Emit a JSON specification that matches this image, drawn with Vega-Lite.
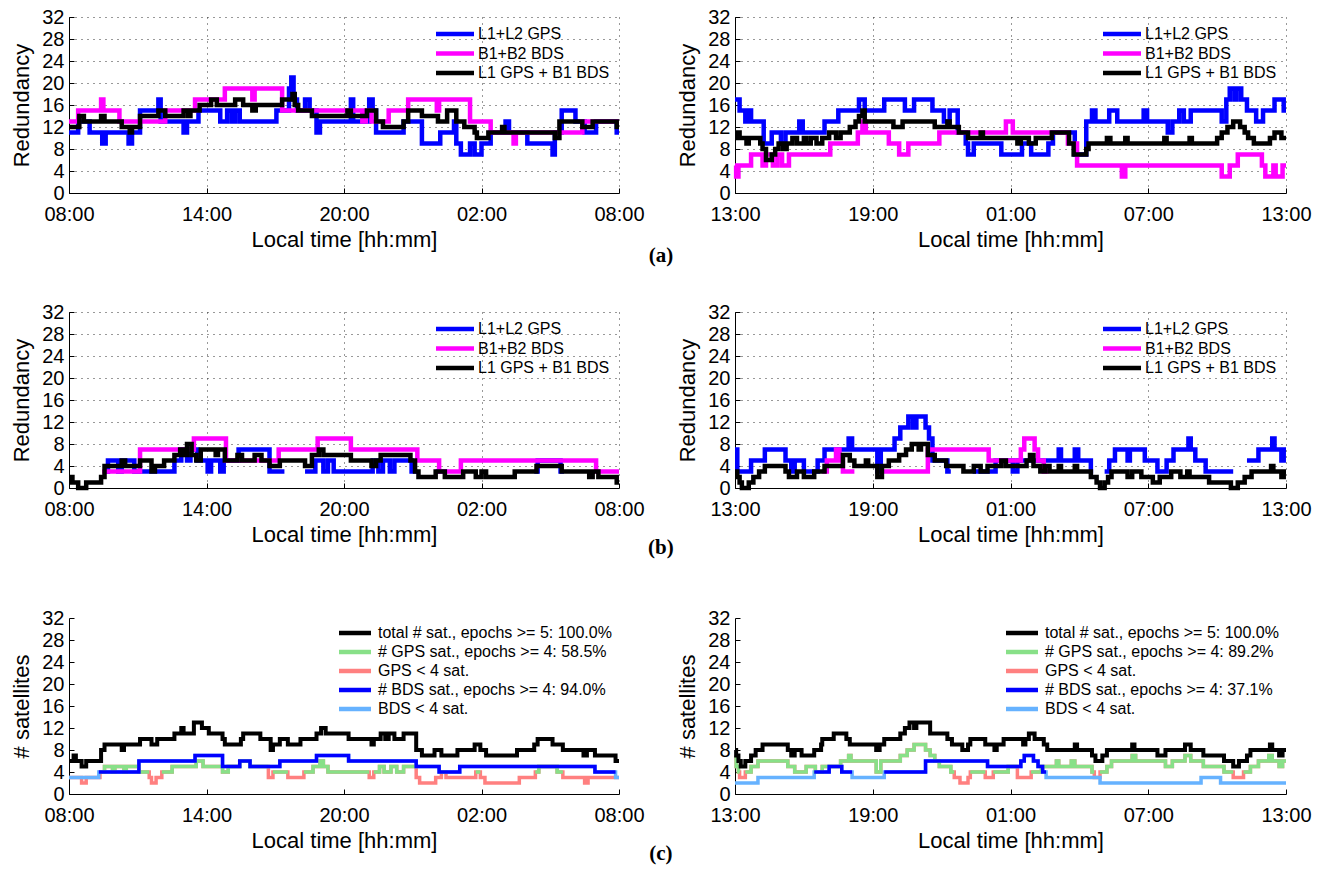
{
"$schema":"https://vega.github.io/schema/vega-lite/v6.json",
"background":"white",
"padding":{"left":10,"top":7,"right":5,"bottom":5},
"config":{
 "view":{"stroke":null},
 "font":"Liberation Sans",
 "axis":{"labelFont":"Liberation Sans","labelFontSize":20,"labelColor":"#000","titleFont":"Liberation Sans","titleFontSize":22,"titleFontWeight":"normal","titleColor":"#000","domainColor":"#000","domainWidth":1,"tickColor":"#000","tickSize":-5,"tickWidth":1,"labelPadding":10,"labelFlush":false,"labelOverlap":false,"gridColor":"#333","gridDash":[1,5],"gridOpacity":1,"gridWidth":1},
 "axisX":{"labelPadding":16,"titlePadding":5},
 "axisY":{"titlePadding":8},
 "legend":{"orient":"top-right","offset":9,"padding":0,"labelFont":"Liberation Sans","labelFontSize":16,"labelColor":"#000","symbolType":"M-4,0H4","symbolSize":90.25,"symbolStrokeWidth":5,"labelOffset":15,"rowPadding":1.5,"labelLimit":400},
 "line":{"interpolate":"step-after","strokeWidth":4.5}
},
"datasets":{
"a1":[
{"s":"G","g":0,"t":0,"v":11},{"s":"G","g":0,"t":0.4,"v":13},{"s":"G","g":0,"t":0.9,"v":11},{"s":"G","g":0,"t":1.45,"v":9},{"s":"G","g":0,"t":1.6,"v":11},{"s":"G","g":0,"t":2.6,"v":9},{"s":"G","g":0,"t":2.75,"v":11},{"s":"G","g":0,"t":3.1,"v":15},{"s":"G","g":0,"t":3.9,"v":17},{"s":"G","g":0,"t":4.0,"v":13},{"s":"G","g":0,"t":5.0,"v":11},{"s":"G","g":0,"t":5.15,"v":13},{"s":"G","g":0,"t":5.65,"v":15},{"s":"G","g":0,"t":6.6,"v":13},{"s":"G","g":0,"t":6.9,"v":15},{"s":"G","g":0,"t":7.1,"v":13},{"s":"G","g":0,"t":7.25,"v":15},{"s":"G","g":0,"t":7.45,"v":13},{"s":"G","g":0,"t":9.05,"v":15},{"s":"G","g":0,"t":9.6,"v":19},{"s":"G","g":0,"t":9.7,"v":21},{"s":"G","g":0,"t":9.8,"v":17},{"s":"G","g":0,"t":9.95,"v":15},{"s":"G","g":0,"t":10.3,"v":17},{"s":"G","g":0,"t":10.5,"v":15},{"s":"G","g":0,"t":10.8,"v":11},{"s":"G","g":0,"t":10.95,"v":13},{"s":"G","g":0,"t":12.3,"v":17},{"s":"G","g":0,"t":12.4,"v":13},{"s":"G","g":0,"t":13.1,"v":17},{"s":"G","g":0,"t":13.25,"v":15},{"s":"G","g":0,"t":13.4,"v":11},{"s":"G","g":0,"t":14.6,"v":13},{"s":"G","g":0,"t":15.4,"v":9},{"s":"G","g":0,"t":16.2,"v":11},{"s":"G","g":0,"t":16.8,"v":13},{"s":"G","g":0,"t":16.9,"v":9},{"s":"G","g":0,"t":17.1,"v":7},{"s":"G","g":0,"t":17.5,"v":9},{"s":"G","g":0,"t":17.7,"v":7},{"s":"G","g":0,"t":18.0,"v":9},{"s":"G","g":0,"t":18.4,"v":11},{"s":"G","g":0,"t":19.05,"v":13},{"s":"G","g":0,"t":19.2,"v":11},{"s":"G","g":0,"t":20.0,"v":9},{"s":"G","g":0,"t":21.1,"v":7},{"s":"G","g":0,"t":21.2,"v":11},{"s":"G","g":0,"t":21.5,"v":15},{"s":"G","g":0,"t":22.1,"v":13},{"s":"G","g":0,"t":22.5,"v":11},{"s":"G","g":0,"t":23.0,"v":13},{"s":"G","g":0,"t":23.9,"v":11},{"s":"G","g":0,"t":24,"v":11},
{"s":"B","g":0,"t":0,"v":13},{"s":"B","g":0,"t":0.4,"v":15},{"s":"B","g":0,"t":1.4,"v":17},{"s":"B","g":0,"t":1.5,"v":15},{"s":"B","g":0,"t":2.2,"v":13},{"s":"B","g":0,"t":4.2,"v":15},{"s":"B","g":0,"t":5.5,"v":17},{"s":"B","g":0,"t":6.8,"v":19},{"s":"B","g":0,"t":8.0,"v":17},{"s":"B","g":0,"t":8.1,"v":19},{"s":"B","g":0,"t":9.3,"v":15},{"s":"B","g":0,"t":12.8,"v":13},{"s":"B","g":0,"t":12.95,"v":15},{"s":"B","g":0,"t":13.2,"v":13},{"s":"B","g":0,"t":13.95,"v":15},{"s":"B","g":0,"t":14.8,"v":17},{"s":"B","g":0,"t":16.05,"v":15},{"s":"B","g":0,"t":16.15,"v":17},{"s":"B","g":0,"t":17.5,"v":13},{"s":"B","g":0,"t":18.4,"v":11},{"s":"B","g":0,"t":19.4,"v":9},{"s":"B","g":0,"t":19.5,"v":11},{"s":"B","g":0,"t":22.4,"v":13},{"s":"B","g":0,"t":24,"v":13},
{"s":"M","g":0,"t":0,"v":12},{"s":"M","g":0,"t":0.45,"v":14},{"s":"M","g":0,"t":0.65,"v":13},{"s":"M","g":0,"t":1.4,"v":14},{"s":"M","g":0,"t":1.55,"v":13},{"s":"M","g":0,"t":2.3,"v":12},{"s":"M","g":0,"t":2.65,"v":11},{"s":"M","g":0,"t":2.75,"v":12},{"s":"M","g":0,"t":3.1,"v":14},{"s":"M","g":0,"t":3.9,"v":15},{"s":"M","g":0,"t":4.2,"v":14},{"s":"M","g":0,"t":5.0,"v":15},{"s":"M","g":0,"t":5.2,"v":14},{"s":"M","g":0,"t":5.3,"v":15},{"s":"M","g":0,"t":5.7,"v":16},{"s":"M","g":0,"t":6.2,"v":17},{"s":"M","g":0,"t":6.45,"v":16},{"s":"M","g":0,"t":7.25,"v":17},{"s":"M","g":0,"t":7.6,"v":16},{"s":"M","g":0,"t":8.0,"v":15},{"s":"M","g":0,"t":8.15,"v":16},{"s":"M","g":0,"t":9.3,"v":17},{"s":"M","g":0,"t":9.75,"v":18},{"s":"M","g":0,"t":9.85,"v":16},{"s":"M","g":0,"t":10.0,"v":15},{"s":"M","g":0,"t":10.6,"v":14},{"s":"M","g":0,"t":12.15,"v":15},{"s":"M","g":0,"t":12.3,"v":14},{"s":"M","g":0,"t":13.0,"v":15},{"s":"M","g":0,"t":13.4,"v":13},{"s":"M","g":0,"t":13.7,"v":12},{"s":"M","g":0,"t":14.6,"v":13},{"s":"M","g":0,"t":14.8,"v":15},{"s":"M","g":0,"t":15.4,"v":14},{"s":"M","g":0,"t":16.1,"v":13},{"s":"M","g":0,"t":16.5,"v":15},{"s":"M","g":0,"t":16.9,"v":13},{"s":"M","g":0,"t":17.25,"v":12},{"s":"M","g":0,"t":17.7,"v":11},{"s":"M","g":0,"t":17.8,"v":10},{"s":"M","g":0,"t":18.3,"v":11},{"s":"M","g":0,"t":18.9,"v":12},{"s":"M","g":0,"t":19.0,"v":11},{"s":"M","g":0,"t":21.2,"v":10},{"s":"M","g":0,"t":21.4,"v":13},{"s":"M","g":0,"t":22.4,"v":12},{"s":"M","g":0,"t":22.85,"v":13},{"s":"M","g":0,"t":23.9,"v":12},{"s":"M","g":0,"t":24,"v":12}
],
"a2":[
{"s":"G","g":0,"t":0,"v":17},{"s":"G","g":0,"t":0.2,"v":15},{"s":"G","g":0,"t":0.45,"v":13},{"s":"G","g":0,"t":0.55,"v":15},{"s":"G","g":0,"t":0.7,"v":13},{"s":"G","g":0,"t":1.25,"v":9},{"s":"G","g":0,"t":1.6,"v":11},{"s":"G","g":0,"t":2.0,"v":9},{"s":"G","g":0,"t":2.2,"v":11},{"s":"G","g":0,"t":2.8,"v":13},{"s":"G","g":0,"t":2.95,"v":11},{"s":"G","g":0,"t":3.9,"v":13},{"s":"G","g":0,"t":4.5,"v":15},{"s":"G","g":0,"t":5.4,"v":17},{"s":"G","g":0,"t":5.65,"v":15},{"s":"G","g":0,"t":6.5,"v":17},{"s":"G","g":0,"t":7.4,"v":15},{"s":"G","g":0,"t":7.8,"v":17},{"s":"G","g":0,"t":8.6,"v":15},{"s":"G","g":0,"t":9.1,"v":13},{"s":"G","g":0,"t":9.35,"v":15},{"s":"G","g":0,"t":9.7,"v":11},{"s":"G","g":0,"t":10.05,"v":9},{"s":"G","g":0,"t":10.15,"v":7},{"s":"G","g":0,"t":10.4,"v":9},{"s":"G","g":0,"t":11.6,"v":7},{"s":"G","g":0,"t":12.5,"v":9},{"s":"G","g":0,"t":12.9,"v":7},{"s":"G","g":0,"t":13.65,"v":9},{"s":"G","g":0,"t":13.85,"v":11},{"s":"G","g":0,"t":14.8,"v":7},{"s":"G","g":0,"t":15.3,"v":13},{"s":"G","g":0,"t":15.55,"v":15},{"s":"G","g":0,"t":15.7,"v":13},{"s":"G","g":0,"t":16.3,"v":15},{"s":"G","g":0,"t":16.65,"v":13},{"s":"G","g":0,"t":17.8,"v":15},{"s":"G","g":0,"t":17.95,"v":13},{"s":"G","g":0,"t":18.85,"v":11},{"s":"G","g":0,"t":19.05,"v":13},{"s":"G","g":0,"t":19.35,"v":15},{"s":"G","g":0,"t":19.55,"v":13},{"s":"G","g":0,"t":19.85,"v":15},{"s":"G","g":0,"t":21.2,"v":13},{"s":"G","g":0,"t":21.4,"v":17},{"s":"G","g":0,"t":21.55,"v":19},{"s":"G","g":0,"t":21.75,"v":17},{"s":"G","g":0,"t":21.85,"v":19},{"s":"G","g":0,"t":22.05,"v":17},{"s":"G","g":0,"t":22.3,"v":15},{"s":"G","g":0,"t":22.7,"v":13},{"s":"G","g":0,"t":23.0,"v":15},{"s":"G","g":0,"t":23.5,"v":17},{"s":"G","g":0,"t":23.9,"v":15},{"s":"G","g":0,"t":24,"v":15},
{"s":"B","g":0,"t":0,"v":5},{"s":"B","g":0,"t":0.05,"v":3},{"s":"B","g":0,"t":0.15,"v":5},{"s":"B","g":0,"t":0.7,"v":7},{"s":"B","g":0,"t":1.2,"v":5},{"s":"B","g":0,"t":1.35,"v":7},{"s":"B","g":0,"t":1.65,"v":5},{"s":"B","g":0,"t":1.85,"v":7},{"s":"B","g":0,"t":2.05,"v":5},{"s":"B","g":0,"t":2.35,"v":7},{"s":"B","g":0,"t":4.15,"v":9},{"s":"B","g":0,"t":5.35,"v":11},{"s":"B","g":0,"t":5.55,"v":13},{"s":"B","g":0,"t":5.7,"v":11},{"s":"B","g":0,"t":6.7,"v":9},{"s":"B","g":0,"t":7.15,"v":7},{"s":"B","g":0,"t":7.55,"v":9},{"s":"B","g":0,"t":8.9,"v":11},{"s":"B","g":0,"t":11.8,"v":13},{"s":"B","g":0,"t":12.1,"v":11},{"s":"B","g":0,"t":14.5,"v":9},{"s":"B","g":0,"t":14.9,"v":5},{"s":"B","g":0,"t":16.85,"v":3},{"s":"B","g":0,"t":17.0,"v":5},{"s":"B","g":0,"t":21.2,"v":3},{"s":"B","g":0,"t":21.55,"v":5},{"s":"B","g":0,"t":21.9,"v":7},{"s":"B","g":0,"t":22.95,"v":5},{"s":"B","g":0,"t":23.1,"v":3},{"s":"B","g":0,"t":23.45,"v":5},{"s":"B","g":0,"t":23.55,"v":3},{"s":"B","g":0,"t":23.85,"v":5},{"s":"B","g":0,"t":24,"v":5},
{"s":"M","g":0,"t":0,"v":10},{"s":"M","g":0,"t":0.1,"v":11},{"s":"M","g":0,"t":0.2,"v":10},{"s":"M","g":0,"t":0.5,"v":9},{"s":"M","g":0,"t":0.6,"v":10},{"s":"M","g":0,"t":1.1,"v":9},{"s":"M","g":0,"t":1.2,"v":8},{"s":"M","g":0,"t":1.35,"v":6},{"s":"M","g":0,"t":1.6,"v":7},{"s":"M","g":0,"t":1.75,"v":8},{"s":"M","g":0,"t":1.9,"v":9},{"s":"M","g":0,"t":2.1,"v":8},{"s":"M","g":0,"t":2.25,"v":9},{"s":"M","g":0,"t":2.5,"v":10},{"s":"M","g":0,"t":2.7,"v":9},{"s":"M","g":0,"t":3.0,"v":10},{"s":"M","g":0,"t":3.1,"v":9},{"s":"M","g":0,"t":3.3,"v":10},{"s":"M","g":0,"t":3.55,"v":9},{"s":"M","g":0,"t":3.8,"v":10},{"s":"M","g":0,"t":4.1,"v":11},{"s":"M","g":0,"t":4.4,"v":10},{"s":"M","g":0,"t":4.6,"v":11},{"s":"M","g":0,"t":5.0,"v":12},{"s":"M","g":0,"t":5.25,"v":13},{"s":"M","g":0,"t":5.4,"v":14},{"s":"M","g":0,"t":5.55,"v":15},{"s":"M","g":0,"t":5.65,"v":13},{"s":"M","g":0,"t":6.9,"v":12},{"s":"M","g":0,"t":7.3,"v":13},{"s":"M","g":0,"t":8.7,"v":12},{"s":"M","g":0,"t":9.25,"v":13},{"s":"M","g":0,"t":9.35,"v":12},{"s":"M","g":0,"t":9.75,"v":11},{"s":"M","g":0,"t":10.15,"v":10},{"s":"M","g":0,"t":10.7,"v":11},{"s":"M","g":0,"t":10.8,"v":10},{"s":"M","g":0,"t":12.3,"v":9},{"s":"M","g":0,"t":12.45,"v":10},{"s":"M","g":0,"t":12.8,"v":9},{"s":"M","g":0,"t":13.1,"v":10},{"s":"M","g":0,"t":13.8,"v":11},{"s":"M","g":0,"t":14.55,"v":9},{"s":"M","g":0,"t":14.75,"v":7},{"s":"M","g":0,"t":15.3,"v":8},{"s":"M","g":0,"t":15.4,"v":9},{"s":"M","g":0,"t":16.2,"v":10},{"s":"M","g":0,"t":16.35,"v":9},{"s":"M","g":0,"t":17.0,"v":10},{"s":"M","g":0,"t":17.1,"v":9},{"s":"M","g":0,"t":18.7,"v":10},{"s":"M","g":0,"t":18.8,"v":9},{"s":"M","g":0,"t":19.8,"v":10},{"s":"M","g":0,"t":19.9,"v":9},{"s":"M","g":0,"t":21.0,"v":10},{"s":"M","g":0,"t":21.2,"v":11},{"s":"M","g":0,"t":21.45,"v":12},{"s":"M","g":0,"t":21.7,"v":13},{"s":"M","g":0,"t":22.0,"v":12},{"s":"M","g":0,"t":22.2,"v":11},{"s":"M","g":0,"t":22.35,"v":10},{"s":"M","g":0,"t":22.6,"v":9},{"s":"M","g":0,"t":23.3,"v":10},{"s":"M","g":0,"t":23.5,"v":11},{"s":"M","g":0,"t":23.8,"v":10},{"s":"M","g":0,"t":24,"v":10}
],
"b1":[
{"s":"G","g":0,"t":1.55,"v":3},{"s":"G","g":0,"t":1.7,"v":5},{"s":"G","g":0,"t":2.15,"v":3},{"s":"G","g":0,"t":2.3,"v":5},{"s":"G","g":0,"t":2.85,"v":3},{"s":"G","g":0,"t":4.6,"v":5},{"s":"G","g":0,"t":4.9,"v":7},{"s":"G","g":0,"t":5.15,"v":5},{"s":"G","g":0,"t":5.3,"v":7},{"s":"G","g":0,"t":5.6,"v":5},{"s":"G","g":0,"t":6.05,"v":3},{"s":"G","g":0,"t":6.2,"v":5},{"s":"G","g":0,"t":6.6,"v":3},{"s":"G","g":0,"t":6.75,"v":5},{"s":"G","g":0,"t":7.4,"v":7},{"s":"G","g":0,"t":8.75,"v":3},{"s":"G","g":0,"t":9.4,"v":3},
{"s":"G","g":1,"t":10.3,"v":3},{"s":"G","g":1,"t":10.75,"v":5},{"s":"G","g":1,"t":11.1,"v":3},{"s":"G","g":1,"t":11.3,"v":5},{"s":"G","g":1,"t":11.55,"v":3},{"s":"G","g":1,"t":13.25,"v":5},{"s":"G","g":1,"t":13.5,"v":3},{"s":"G","g":1,"t":13.7,"v":5},{"s":"G","g":1,"t":14.0,"v":3},{"s":"G","g":1,"t":14.2,"v":5},{"s":"G","g":1,"t":14.95,"v":3},{"s":"G","g":1,"t":15.2,"v":3},
{"s":"G","g":2,"t":16.0,"v":3},{"s":"G","g":2,"t":16.5,"v":3},
{"s":"G","g":3,"t":20.3,"v":3},{"s":"G","g":3,"t":20.45,"v":5},{"s":"G","g":3,"t":21.45,"v":3},{"s":"G","g":3,"t":21.6,"v":3},
{"s":"B","g":0,"t":1.45,"v":3},{"s":"B","g":0,"t":3.1,"v":7},{"s":"B","g":0,"t":5.45,"v":9},{"s":"B","g":0,"t":6.85,"v":5},{"s":"B","g":0,"t":9.15,"v":7},{"s":"B","g":0,"t":10.85,"v":9},{"s":"B","g":0,"t":12.3,"v":7},{"s":"B","g":0,"t":15.2,"v":5},{"s":"B","g":0,"t":16.15,"v":3},{"s":"B","g":0,"t":17.1,"v":5},{"s":"B","g":0,"t":23.0,"v":3},{"s":"B","g":0,"t":24,"v":3},
{"s":"M","g":0,"t":0,"v":1},{"s":"M","g":0,"t":0.1,"v":2},{"s":"M","g":0,"t":0.15,"v":1},{"s":"M","g":0,"t":0.4,"v":0},{"s":"M","g":0,"t":0.75,"v":1},{"s":"M","g":0,"t":1.4,"v":2},{"s":"M","g":0,"t":1.55,"v":4},{"s":"M","g":0,"t":2.3,"v":5},{"s":"M","g":0,"t":2.45,"v":4},{"s":"M","g":0,"t":3.1,"v":5},{"s":"M","g":0,"t":3.6,"v":3},{"s":"M","g":0,"t":3.75,"v":4},{"s":"M","g":0,"t":4.15,"v":5},{"s":"M","g":0,"t":4.6,"v":6},{"s":"M","g":0,"t":4.85,"v":7},{"s":"M","g":0,"t":5.0,"v":6},{"s":"M","g":0,"t":5.15,"v":8},{"s":"M","g":0,"t":5.35,"v":6},{"s":"M","g":0,"t":5.55,"v":5},{"s":"M","g":0,"t":5.75,"v":7},{"s":"M","g":0,"t":6.4,"v":6},{"s":"M","g":0,"t":6.5,"v":7},{"s":"M","g":0,"t":6.8,"v":5},{"s":"M","g":0,"t":7.35,"v":6},{"s":"M","g":0,"t":7.55,"v":5},{"s":"M","g":0,"t":8.1,"v":6},{"s":"M","g":0,"t":8.4,"v":5},{"s":"M","g":0,"t":8.75,"v":4},{"s":"M","g":0,"t":9.2,"v":5},{"s":"M","g":0,"t":10.3,"v":4},{"s":"M","g":0,"t":10.6,"v":6},{"s":"M","g":0,"t":10.9,"v":7},{"s":"M","g":0,"t":11.1,"v":6},{"s":"M","g":0,"t":12.3,"v":5},{"s":"M","g":0,"t":13.2,"v":4},{"s":"M","g":0,"t":13.4,"v":5},{"s":"M","g":0,"t":13.6,"v":6},{"s":"M","g":0,"t":14.9,"v":5},{"s":"M","g":0,"t":15.1,"v":3},{"s":"M","g":0,"t":15.25,"v":2},{"s":"M","g":0,"t":16.0,"v":3},{"s":"M","g":0,"t":16.4,"v":2},{"s":"M","g":0,"t":17.2,"v":3},{"s":"M","g":0,"t":17.75,"v":2},{"s":"M","g":0,"t":18.0,"v":3},{"s":"M","g":0,"t":18.2,"v":2},{"s":"M","g":0,"t":19.45,"v":3},{"s":"M","g":0,"t":20.4,"v":4},{"s":"M","g":0,"t":21.5,"v":3},{"s":"M","g":0,"t":22.7,"v":2},{"s":"M","g":0,"t":22.85,"v":3},{"s":"M","g":0,"t":23.1,"v":2},{"s":"M","g":0,"t":23.9,"v":1},{"s":"M","g":0,"t":24,"v":1}
],
"b2":[
{"s":"G","g":0,"t":0,"v":7},{"s":"G","g":0,"t":0.1,"v":3},{"s":"G","g":0,"t":0.7,"v":5},{"s":"G","g":0,"t":1.3,"v":7},{"s":"G","g":0,"t":2.2,"v":5},{"s":"G","g":0,"t":2.45,"v":3},{"s":"G","g":0,"t":2.6,"v":5},{"s":"G","g":0,"t":3.0,"v":3},{"s":"G","g":0,"t":3.6,"v":5},{"s":"G","g":0,"t":3.9,"v":7},{"s":"G","g":0,"t":4.95,"v":9},{"s":"G","g":0,"t":5.1,"v":7},{"s":"G","g":0,"t":6.2,"v":3},{"s":"G","g":0,"t":6.35,"v":7},{"s":"G","g":0,"t":6.95,"v":9},{"s":"G","g":0,"t":7.2,"v":11},{"s":"G","g":0,"t":7.55,"v":13},{"s":"G","g":0,"t":7.75,"v":11},{"s":"G","g":0,"t":7.9,"v":13},{"s":"G","g":0,"t":8.3,"v":11},{"s":"G","g":0,"t":8.45,"v":9},{"s":"G","g":0,"t":8.6,"v":5},{"s":"G","g":0,"t":9.25,"v":3},{"s":"G","g":0,"t":9.4,"v":3},
{"s":"G","g":1,"t":10.35,"v":3},{"s":"G","g":1,"t":11.35,"v":5},{"s":"G","g":1,"t":12.1,"v":3},{"s":"G","g":1,"t":12.3,"v":5},{"s":"G","g":1,"t":14.1,"v":7},{"s":"G","g":1,"t":14.2,"v":5},{"s":"G","g":1,"t":14.8,"v":7},{"s":"G","g":1,"t":14.95,"v":5},{"s":"G","g":1,"t":15.5,"v":3},{"s":"G","g":1,"t":15.6,"v":3},
{"s":"G","g":2,"t":16.1,"v":3},{"s":"G","g":2,"t":16.3,"v":5},{"s":"G","g":2,"t":16.55,"v":7},{"s":"G","g":2,"t":17.1,"v":5},{"s":"G","g":2,"t":17.2,"v":7},{"s":"G","g":2,"t":17.85,"v":5},{"s":"G","g":2,"t":18.4,"v":3},{"s":"G","g":2,"t":18.8,"v":5},{"s":"G","g":2,"t":19.1,"v":7},{"s":"G","g":2,"t":19.75,"v":9},{"s":"G","g":2,"t":19.85,"v":7},{"s":"G","g":2,"t":20.05,"v":5},{"s":"G","g":2,"t":20.5,"v":3},{"s":"G","g":2,"t":21.7,"v":3},
{"s":"G","g":3,"t":22.3,"v":5},{"s":"G","g":3,"t":22.8,"v":7},{"s":"G","g":3,"t":23.4,"v":9},{"s":"G","g":3,"t":23.5,"v":7},{"s":"G","g":3,"t":23.8,"v":5},{"s":"G","g":3,"t":23.9,"v":7},{"s":"G","g":3,"t":24,"v":7},
{"s":"B","g":0,"t":3.8,"v":3},{"s":"B","g":0,"t":4.0,"v":5},{"s":"B","g":0,"t":4.4,"v":7},{"s":"B","g":0,"t":4.55,"v":5},{"s":"B","g":0,"t":4.7,"v":3},{"s":"B","g":0,"t":5.2,"v":3},
{"s":"B","g":1,"t":6.4,"v":3},{"s":"B","g":1,"t":8.4,"v":7},{"s":"B","g":1,"t":11.05,"v":5},{"s":"B","g":1,"t":12.45,"v":7},{"s":"B","g":1,"t":12.6,"v":9},{"s":"B","g":1,"t":13.05,"v":7},{"s":"B","g":1,"t":13.2,"v":5},{"s":"B","g":1,"t":13.45,"v":3},{"s":"B","g":1,"t":13.65,"v":3},
{"s":"M","g":0,"t":0,"v":3},{"s":"M","g":0,"t":0.1,"v":2},{"s":"M","g":0,"t":0.2,"v":1},{"s":"M","g":0,"t":0.3,"v":0},{"s":"M","g":0,"t":0.6,"v":1},{"s":"M","g":0,"t":0.8,"v":2},{"s":"M","g":0,"t":1.05,"v":3},{"s":"M","g":0,"t":1.3,"v":4},{"s":"M","g":0,"t":2.2,"v":3},{"s":"M","g":0,"t":2.35,"v":2},{"s":"M","g":0,"t":2.7,"v":3},{"s":"M","g":0,"t":3.0,"v":2},{"s":"M","g":0,"t":3.45,"v":3},{"s":"M","g":0,"t":3.9,"v":4},{"s":"M","g":0,"t":4.7,"v":6},{"s":"M","g":0,"t":5.0,"v":5},{"s":"M","g":0,"t":5.2,"v":4},{"s":"M","g":0,"t":5.7,"v":5},{"s":"M","g":0,"t":5.8,"v":4},{"s":"M","g":0,"t":6.2,"v":2},{"s":"M","g":0,"t":6.4,"v":4},{"s":"M","g":0,"t":6.7,"v":5},{"s":"M","g":0,"t":7.15,"v":6},{"s":"M","g":0,"t":7.45,"v":7},{"s":"M","g":0,"t":7.7,"v":8},{"s":"M","g":0,"t":8.0,"v":7},{"s":"M","g":0,"t":8.1,"v":8},{"s":"M","g":0,"t":8.4,"v":6},{"s":"M","g":0,"t":8.7,"v":5},{"s":"M","g":0,"t":9.2,"v":4},{"s":"M","g":0,"t":9.95,"v":3},{"s":"M","g":0,"t":10.4,"v":4},{"s":"M","g":0,"t":10.7,"v":3},{"s":"M","g":0,"t":11.0,"v":4},{"s":"M","g":0,"t":11.6,"v":5},{"s":"M","g":0,"t":11.8,"v":4},{"s":"M","g":0,"t":12.7,"v":5},{"s":"M","g":0,"t":12.85,"v":6},{"s":"M","g":0,"t":13.0,"v":4},{"s":"M","g":0,"t":13.3,"v":3},{"s":"M","g":0,"t":13.5,"v":4},{"s":"M","g":0,"t":13.7,"v":3},{"s":"M","g":0,"t":14.1,"v":4},{"s":"M","g":0,"t":14.2,"v":3},{"s":"M","g":0,"t":14.8,"v":4},{"s":"M","g":0,"t":14.9,"v":3},{"s":"M","g":0,"t":15.5,"v":2},{"s":"M","g":0,"t":15.75,"v":1},{"s":"M","g":0,"t":15.9,"v":0},{"s":"M","g":0,"t":16.1,"v":1},{"s":"M","g":0,"t":16.25,"v":2},{"s":"M","g":0,"t":16.4,"v":3},{"s":"M","g":0,"t":17.1,"v":2},{"s":"M","g":0,"t":17.3,"v":3},{"s":"M","g":0,"t":17.7,"v":2},{"s":"M","g":0,"t":18.2,"v":1},{"s":"M","g":0,"t":18.5,"v":2},{"s":"M","g":0,"t":19.0,"v":3},{"s":"M","g":0,"t":19.4,"v":2},{"s":"M","g":0,"t":19.7,"v":3},{"s":"M","g":0,"t":19.8,"v":2},{"s":"M","g":0,"t":20.65,"v":1},{"s":"M","g":0,"t":21.6,"v":0},{"s":"M","g":0,"t":21.9,"v":1},{"s":"M","g":0,"t":22.2,"v":2},{"s":"M","g":0,"t":22.5,"v":3},{"s":"M","g":0,"t":23.35,"v":4},{"s":"M","g":0,"t":23.45,"v":3},{"s":"M","g":0,"t":23.8,"v":2},{"s":"M","g":0,"t":23.9,"v":3},{"s":"M","g":0,"t":24,"v":3}
],
"c1":[
{"s":"GL","g":0,"t":0,"v":3},{"s":"GL","g":0,"t":0.55,"v":2},{"s":"GL","g":0,"t":0.75,"v":3},{"s":"GL","g":0,"t":1.35,"v":4},{"s":"GL","g":0,"t":1.55,"v":5},{"s":"GL","g":0,"t":1.9,"v":4},{"s":"GL","g":0,"t":2.0,"v":5},{"s":"GL","g":0,"t":2.4,"v":4},{"s":"GL","g":0,"t":2.5,"v":5},{"s":"GL","g":0,"t":3.05,"v":4},{"s":"GL","g":0,"t":3.5,"v":3},{"s":"GL","g":0,"t":3.6,"v":2},{"s":"GL","g":0,"t":3.8,"v":3},{"s":"GL","g":0,"t":4.05,"v":4},{"s":"GL","g":0,"t":4.5,"v":5},{"s":"GL","g":0,"t":5.55,"v":6},{"s":"GL","g":0,"t":5.85,"v":5},{"s":"GL","g":0,"t":6.7,"v":4},{"s":"GL","g":0,"t":6.95,"v":5},{"s":"GL","g":0,"t":7.45,"v":6},{"s":"GL","g":0,"t":7.9,"v":5},{"s":"GL","g":0,"t":8.7,"v":3},{"s":"GL","g":0,"t":8.9,"v":4},{"s":"GL","g":0,"t":9.55,"v":3},{"s":"GL","g":0,"t":10.25,"v":4},{"s":"GL","g":0,"t":10.65,"v":5},{"s":"GL","g":0,"t":10.95,"v":6},{"s":"GL","g":0,"t":11.1,"v":5},{"s":"GL","g":0,"t":11.3,"v":4},{"s":"GL","g":0,"t":13.1,"v":3},{"s":"GL","g":0,"t":13.3,"v":4},{"s":"GL","g":0,"t":13.55,"v":5},{"s":"GL","g":0,"t":13.75,"v":4},{"s":"GL","g":0,"t":14.05,"v":5},{"s":"GL","g":0,"t":14.3,"v":4},{"s":"GL","g":0,"t":14.6,"v":5},{"s":"GL","g":0,"t":15.15,"v":3},{"s":"GL","g":0,"t":15.3,"v":2},{"s":"GL","g":0,"t":16.0,"v":3},{"s":"GL","g":0,"t":16.25,"v":4},{"s":"GL","g":0,"t":16.45,"v":3},{"s":"GL","g":0,"t":17.75,"v":4},{"s":"GL","g":0,"t":17.95,"v":3},{"s":"GL","g":0,"t":18.15,"v":2},{"s":"GL","g":0,"t":19.65,"v":3},{"s":"GL","g":0,"t":20.35,"v":4},{"s":"GL","g":0,"t":20.5,"v":5},{"s":"GL","g":0,"t":21.3,"v":4},{"s":"GL","g":0,"t":21.55,"v":3},{"s":"GL","g":0,"t":22.5,"v":2},{"s":"GL","g":0,"t":22.65,"v":3},{"s":"GL","g":0,"t":24,"v":3},
{"s":"GS","g":0,"t":1.35,"v":4},{"s":"GS","g":0,"t":1.55,"v":5},{"s":"GS","g":0,"t":1.9,"v":4},{"s":"GS","g":0,"t":2.0,"v":5},{"s":"GS","g":0,"t":2.4,"v":4},{"s":"GS","g":0,"t":2.5,"v":5},{"s":"GS","g":0,"t":3.05,"v":4},{"s":"GS","g":0,"t":3.5,"v":4},
{"s":"GS","g":1,"t":4.05,"v":4},{"s":"GS","g":1,"t":4.5,"v":5},{"s":"GS","g":1,"t":5.55,"v":6},{"s":"GS","g":1,"t":5.85,"v":5},{"s":"GS","g":1,"t":6.7,"v":4},{"s":"GS","g":1,"t":6.95,"v":5},{"s":"GS","g":1,"t":7.45,"v":6},{"s":"GS","g":1,"t":7.9,"v":5},{"s":"GS","g":1,"t":8.7,"v":5},
{"s":"GS","g":2,"t":8.9,"v":4},{"s":"GS","g":2,"t":9.55,"v":4},
{"s":"GS","g":3,"t":10.25,"v":4},{"s":"GS","g":3,"t":10.65,"v":5},{"s":"GS","g":3,"t":10.95,"v":6},{"s":"GS","g":3,"t":11.1,"v":5},{"s":"GS","g":3,"t":11.3,"v":4},{"s":"GS","g":3,"t":13.1,"v":4},
{"s":"GS","g":4,"t":13.3,"v":4},{"s":"GS","g":4,"t":13.55,"v":5},{"s":"GS","g":4,"t":13.75,"v":4},{"s":"GS","g":4,"t":14.05,"v":5},{"s":"GS","g":4,"t":14.3,"v":4},{"s":"GS","g":4,"t":14.6,"v":5},{"s":"GS","g":4,"t":15.15,"v":5},
{"s":"GS","g":5,"t":16.25,"v":4},{"s":"GS","g":5,"t":16.45,"v":4},
{"s":"GS","g":6,"t":17.75,"v":4},{"s":"GS","g":6,"t":17.95,"v":4},
{"s":"GS","g":7,"t":20.35,"v":4},{"s":"GS","g":7,"t":20.5,"v":5},{"s":"GS","g":7,"t":21.3,"v":4},{"s":"GS","g":7,"t":21.55,"v":4},
{"s":"BL","g":0,"t":0,"v":3},{"s":"BL","g":0,"t":1.3,"v":4},{"s":"BL","g":0,"t":3.05,"v":6},{"s":"BL","g":0,"t":5.5,"v":7},{"s":"BL","g":0,"t":6.7,"v":5},{"s":"BL","g":0,"t":7.45,"v":6},{"s":"BL","g":0,"t":7.9,"v":5},{"s":"BL","g":0,"t":9.2,"v":6},{"s":"BL","g":0,"t":10.8,"v":7},{"s":"BL","g":0,"t":12.2,"v":6},{"s":"BL","g":0,"t":15.15,"v":5},{"s":"BL","g":0,"t":16.15,"v":4},{"s":"BL","g":0,"t":17.05,"v":5},{"s":"BL","g":0,"t":22.95,"v":4},{"s":"BL","g":0,"t":23.85,"v":3},{"s":"BL","g":0,"t":24,"v":3},
{"s":"BS","g":0,"t":1.3,"v":4},{"s":"BS","g":0,"t":3.05,"v":6},{"s":"BS","g":0,"t":5.5,"v":7},{"s":"BS","g":0,"t":6.7,"v":5},{"s":"BS","g":0,"t":7.45,"v":6},{"s":"BS","g":0,"t":7.9,"v":5},{"s":"BS","g":0,"t":9.2,"v":6},{"s":"BS","g":0,"t":10.8,"v":7},{"s":"BS","g":0,"t":12.2,"v":6},{"s":"BS","g":0,"t":15.15,"v":5},{"s":"BS","g":0,"t":16.15,"v":4},{"s":"BS","g":0,"t":17.05,"v":5},{"s":"BS","g":0,"t":22.95,"v":4},{"s":"BS","g":0,"t":23.85,"v":4},
{"s":"T","g":0,"t":0,"v":6},{"s":"T","g":0,"t":0.2,"v":7},{"s":"T","g":0,"t":0.3,"v":6},{"s":"T","g":0,"t":0.55,"v":5},{"s":"T","g":0,"t":0.75,"v":6},{"s":"T","g":0,"t":1.4,"v":8},{"s":"T","g":0,"t":1.55,"v":9},{"s":"T","g":0,"t":2.3,"v":8},{"s":"T","g":0,"t":2.4,"v":9},{"s":"T","g":0,"t":3.1,"v":10},{"s":"T","g":0,"t":3.6,"v":9},{"s":"T","g":0,"t":3.85,"v":10},{"s":"T","g":0,"t":4.6,"v":11},{"s":"T","g":0,"t":4.9,"v":12},{"s":"T","g":0,"t":5.0,"v":11},{"s":"T","g":0,"t":5.45,"v":13},{"s":"T","g":0,"t":5.8,"v":12},{"s":"T","g":0,"t":6.1,"v":11},{"s":"T","g":0,"t":6.7,"v":10},{"s":"T","g":0,"t":6.8,"v":9},{"s":"T","g":0,"t":7.5,"v":10},{"s":"T","g":0,"t":7.6,"v":11},{"s":"T","g":0,"t":8.35,"v":10},{"s":"T","g":0,"t":8.8,"v":8},{"s":"T","g":0,"t":8.9,"v":9},{"s":"T","g":0,"t":9.2,"v":10},{"s":"T","g":0,"t":9.55,"v":9},{"s":"T","g":0,"t":10.1,"v":10},{"s":"T","g":0,"t":10.8,"v":11},{"s":"T","g":0,"t":11.0,"v":12},{"s":"T","g":0,"t":11.2,"v":11},{"s":"T","g":0,"t":12.2,"v":10},{"s":"T","g":0,"t":13.2,"v":9},{"s":"T","g":0,"t":13.3,"v":10},{"s":"T","g":0,"t":13.6,"v":11},{"s":"T","g":0,"t":13.8,"v":10},{"s":"T","g":0,"t":13.95,"v":11},{"s":"T","g":0,"t":14.2,"v":10},{"s":"T","g":0,"t":14.6,"v":11},{"s":"T","g":0,"t":15.15,"v":8},{"s":"T","g":0,"t":15.4,"v":7},{"s":"T","g":0,"t":15.95,"v":8},{"s":"T","g":0,"t":16.25,"v":7},{"s":"T","g":0,"t":16.95,"v":8},{"s":"T","g":0,"t":17.7,"v":9},{"s":"T","g":0,"t":17.95,"v":8},{"s":"T","g":0,"t":18.2,"v":7},{"s":"T","g":0,"t":19.55,"v":8},{"s":"T","g":0,"t":20.3,"v":9},{"s":"T","g":0,"t":20.45,"v":10},{"s":"T","g":0,"t":21.1,"v":9},{"s":"T","g":0,"t":21.55,"v":8},{"s":"T","g":0,"t":22.45,"v":7},{"s":"T","g":0,"t":22.6,"v":8},{"s":"T","g":0,"t":22.95,"v":7},{"s":"T","g":0,"t":23.85,"v":6},{"s":"T","g":0,"t":24,"v":6}
],
"c2":[
{"s":"GL","g":0,"t":0,"v":7},{"s":"GL","g":0,"t":0.05,"v":5},{"s":"GL","g":0,"t":0.15,"v":4},{"s":"GL","g":0,"t":0.2,"v":3},{"s":"GL","g":0,"t":0.45,"v":4},{"s":"GL","g":0,"t":0.7,"v":5},{"s":"GL","g":0,"t":1.0,"v":6},{"s":"GL","g":0,"t":2.3,"v":5},{"s":"GL","g":0,"t":2.6,"v":4},{"s":"GL","g":0,"t":3.1,"v":5},{"s":"GL","g":0,"t":3.5,"v":4},{"s":"GL","g":0,"t":3.8,"v":5},{"s":"GL","g":0,"t":4.6,"v":6},{"s":"GL","g":0,"t":4.95,"v":7},{"s":"GL","g":0,"t":5.05,"v":6},{"s":"GL","g":0,"t":6.15,"v":4},{"s":"GL","g":0,"t":6.35,"v":6},{"s":"GL","g":0,"t":7.2,"v":7},{"s":"GL","g":0,"t":7.5,"v":8},{"s":"GL","g":0,"t":7.8,"v":9},{"s":"GL","g":0,"t":8.3,"v":8},{"s":"GL","g":0,"t":8.5,"v":7},{"s":"GL","g":0,"t":8.7,"v":6},{"s":"GL","g":0,"t":8.9,"v":5},{"s":"GL","g":0,"t":9.4,"v":4},{"s":"GL","g":0,"t":9.55,"v":3},{"s":"GL","g":0,"t":9.8,"v":2},{"s":"GL","g":0,"t":10.15,"v":3},{"s":"GL","g":0,"t":10.25,"v":4},{"s":"GL","g":0,"t":10.9,"v":3},{"s":"GL","g":0,"t":11.25,"v":4},{"s":"GL","g":0,"t":11.9,"v":5},{"s":"GL","g":0,"t":12.3,"v":3},{"s":"GL","g":0,"t":12.9,"v":4},{"s":"GL","g":0,"t":13.35,"v":5},{"s":"GL","g":0,"t":14.0,"v":6},{"s":"GL","g":0,"t":14.1,"v":5},{"s":"GL","g":0,"t":14.65,"v":6},{"s":"GL","g":0,"t":14.8,"v":5},{"s":"GL","g":0,"t":15.55,"v":4},{"s":"GL","g":0,"t":15.65,"v":3},{"s":"GL","g":0,"t":15.9,"v":4},{"s":"GL","g":0,"t":16.2,"v":5},{"s":"GL","g":0,"t":16.4,"v":6},{"s":"GL","g":0,"t":17.3,"v":7},{"s":"GL","g":0,"t":17.45,"v":6},{"s":"GL","g":0,"t":18.75,"v":5},{"s":"GL","g":0,"t":19.05,"v":6},{"s":"GL","g":0,"t":19.6,"v":7},{"s":"GL","g":0,"t":19.85,"v":6},{"s":"GL","g":0,"t":20.4,"v":5},{"s":"GL","g":0,"t":21.3,"v":4},{"s":"GL","g":0,"t":21.7,"v":3},{"s":"GL","g":0,"t":22.15,"v":4},{"s":"GL","g":0,"t":22.45,"v":5},{"s":"GL","g":0,"t":22.8,"v":6},{"s":"GL","g":0,"t":23.25,"v":7},{"s":"GL","g":0,"t":23.4,"v":6},{"s":"GL","g":0,"t":23.7,"v":5},{"s":"GL","g":0,"t":23.85,"v":6},{"s":"GL","g":0,"t":24,"v":6},
{"s":"GS","g":0,"t":0,"v":7},{"s":"GS","g":0,"t":0.05,"v":5},{"s":"GS","g":0,"t":0.15,"v":4},{"s":"GS","g":0,"t":0.2,"v":4},
{"s":"GS","g":1,"t":0.45,"v":4},{"s":"GS","g":1,"t":0.7,"v":5},{"s":"GS","g":1,"t":1.0,"v":6},{"s":"GS","g":1,"t":2.3,"v":5},{"s":"GS","g":1,"t":2.6,"v":4},{"s":"GS","g":1,"t":3.1,"v":5},{"s":"GS","g":1,"t":3.5,"v":4},{"s":"GS","g":1,"t":3.8,"v":5},{"s":"GS","g":1,"t":4.6,"v":6},{"s":"GS","g":1,"t":4.95,"v":7},{"s":"GS","g":1,"t":5.05,"v":6},{"s":"GS","g":1,"t":6.15,"v":4},{"s":"GS","g":1,"t":6.35,"v":6},{"s":"GS","g":1,"t":7.2,"v":7},{"s":"GS","g":1,"t":7.5,"v":8},{"s":"GS","g":1,"t":7.8,"v":9},{"s":"GS","g":1,"t":8.3,"v":8},{"s":"GS","g":1,"t":8.5,"v":7},{"s":"GS","g":1,"t":8.7,"v":6},{"s":"GS","g":1,"t":8.9,"v":5},{"s":"GS","g":1,"t":9.4,"v":4},{"s":"GS","g":1,"t":9.55,"v":4},
{"s":"GS","g":2,"t":10.25,"v":4},{"s":"GS","g":2,"t":10.9,"v":4},
{"s":"GS","g":3,"t":11.25,"v":4},{"s":"GS","g":3,"t":11.9,"v":5},{"s":"GS","g":3,"t":12.3,"v":5},
{"s":"GS","g":4,"t":12.9,"v":4},{"s":"GS","g":4,"t":13.35,"v":5},{"s":"GS","g":4,"t":14.0,"v":6},{"s":"GS","g":4,"t":14.1,"v":5},{"s":"GS","g":4,"t":14.65,"v":6},{"s":"GS","g":4,"t":14.8,"v":5},{"s":"GS","g":4,"t":15.55,"v":4},{"s":"GS","g":4,"t":15.65,"v":4},
{"s":"GS","g":5,"t":15.9,"v":4},{"s":"GS","g":5,"t":16.2,"v":5},{"s":"GS","g":5,"t":16.4,"v":6},{"s":"GS","g":5,"t":17.3,"v":7},{"s":"GS","g":5,"t":17.45,"v":6},{"s":"GS","g":5,"t":18.75,"v":5},{"s":"GS","g":5,"t":19.05,"v":6},{"s":"GS","g":5,"t":19.6,"v":7},{"s":"GS","g":5,"t":19.85,"v":6},{"s":"GS","g":5,"t":20.4,"v":5},{"s":"GS","g":5,"t":21.3,"v":4},{"s":"GS","g":5,"t":21.7,"v":4},
{"s":"GS","g":6,"t":22.15,"v":4},{"s":"GS","g":6,"t":22.45,"v":5},{"s":"GS","g":6,"t":22.8,"v":6},{"s":"GS","g":6,"t":23.25,"v":7},{"s":"GS","g":6,"t":23.4,"v":6},{"s":"GS","g":6,"t":23.7,"v":5},{"s":"GS","g":6,"t":23.85,"v":6},{"s":"GS","g":6,"t":24,"v":6},
{"s":"BL","g":0,"t":0,"v":2},{"s":"BL","g":0,"t":1.0,"v":3},{"s":"BL","g":0,"t":3.45,"v":4},{"s":"BL","g":0,"t":4.1,"v":5},{"s":"BL","g":0,"t":4.65,"v":4},{"s":"BL","g":0,"t":5.1,"v":3},{"s":"BL","g":0,"t":6.5,"v":4},{"s":"BL","g":0,"t":8.3,"v":6},{"s":"BL","g":0,"t":11.0,"v":5},{"s":"BL","g":0,"t":12.45,"v":6},{"s":"BL","g":0,"t":12.6,"v":7},{"s":"BL","g":0,"t":13.0,"v":6},{"s":"BL","g":0,"t":13.2,"v":5},{"s":"BL","g":0,"t":13.4,"v":4},{"s":"BL","g":0,"t":13.55,"v":3},{"s":"BL","g":0,"t":15.9,"v":2},{"s":"BL","g":0,"t":20.3,"v":3},{"s":"BL","g":0,"t":21.15,"v":2},{"s":"BL","g":0,"t":24,"v":2},
{"s":"BS","g":0,"t":3.45,"v":4},{"s":"BS","g":0,"t":4.1,"v":5},{"s":"BS","g":0,"t":4.65,"v":4},{"s":"BS","g":0,"t":5.1,"v":4},
{"s":"BS","g":1,"t":6.5,"v":4},{"s":"BS","g":1,"t":8.3,"v":6},{"s":"BS","g":1,"t":11.0,"v":5},{"s":"BS","g":1,"t":12.45,"v":6},{"s":"BS","g":1,"t":12.6,"v":7},{"s":"BS","g":1,"t":13.0,"v":6},{"s":"BS","g":1,"t":13.2,"v":5},{"s":"BS","g":1,"t":13.4,"v":4},{"s":"BS","g":1,"t":13.55,"v":4},
{"s":"T","g":0,"t":0,"v":8},{"s":"T","g":0,"t":0.05,"v":7},{"s":"T","g":0,"t":0.15,"v":6},{"s":"T","g":0,"t":0.25,"v":5},{"s":"T","g":0,"t":0.45,"v":6},{"s":"T","g":0,"t":0.7,"v":7},{"s":"T","g":0,"t":0.9,"v":8},{"s":"T","g":0,"t":1.2,"v":9},{"s":"T","g":0,"t":2.3,"v":8},{"s":"T","g":0,"t":2.45,"v":7},{"s":"T","g":0,"t":2.6,"v":8},{"s":"T","g":0,"t":2.9,"v":7},{"s":"T","g":0,"t":3.45,"v":8},{"s":"T","g":0,"t":3.75,"v":9},{"s":"T","g":0,"t":3.8,"v":10},{"s":"T","g":0,"t":4.3,"v":11},{"s":"T","g":0,"t":4.85,"v":10},{"s":"T","g":0,"t":5.0,"v":9},{"s":"T","g":0,"t":6.15,"v":8},{"s":"T","g":0,"t":6.3,"v":9},{"s":"T","g":0,"t":6.5,"v":10},{"s":"T","g":0,"t":7.2,"v":11},{"s":"T","g":0,"t":7.4,"v":12},{"s":"T","g":0,"t":7.6,"v":13},{"s":"T","g":0,"t":7.8,"v":12},{"s":"T","g":0,"t":7.9,"v":13},{"s":"T","g":0,"t":8.5,"v":11},{"s":"T","g":0,"t":9.25,"v":10},{"s":"T","g":0,"t":9.45,"v":9},{"s":"T","g":0,"t":9.9,"v":8},{"s":"T","g":0,"t":10.15,"v":9},{"s":"T","g":0,"t":10.25,"v":10},{"s":"T","g":0,"t":10.9,"v":9},{"s":"T","g":0,"t":11.3,"v":8},{"s":"T","g":0,"t":11.4,"v":9},{"s":"T","g":0,"t":11.7,"v":10},{"s":"T","g":0,"t":12.55,"v":9},{"s":"T","g":0,"t":12.65,"v":10},{"s":"T","g":0,"t":12.8,"v":11},{"s":"T","g":0,"t":13.05,"v":10},{"s":"T","g":0,"t":13.45,"v":9},{"s":"T","g":0,"t":13.6,"v":8},{"s":"T","g":0,"t":14.8,"v":9},{"s":"T","g":0,"t":14.9,"v":8},{"s":"T","g":0,"t":15.55,"v":7},{"s":"T","g":0,"t":15.7,"v":6},{"s":"T","g":0,"t":16.0,"v":7},{"s":"T","g":0,"t":16.2,"v":8},{"s":"T","g":0,"t":17.3,"v":9},{"s":"T","g":0,"t":17.4,"v":8},{"s":"T","g":0,"t":18.4,"v":7},{"s":"T","g":0,"t":18.75,"v":8},{"s":"T","g":0,"t":19.6,"v":9},{"s":"T","g":0,"t":19.85,"v":8},{"s":"T","g":0,"t":20.4,"v":7},{"s":"T","g":0,"t":21.3,"v":6},{"s":"T","g":0,"t":21.7,"v":5},{"s":"T","g":0,"t":21.95,"v":6},{"s":"T","g":0,"t":22.3,"v":7},{"s":"T","g":0,"t":22.45,"v":8},{"s":"T","g":0,"t":23.3,"v":9},{"s":"T","g":0,"t":23.4,"v":8},{"s":"T","g":0,"t":23.7,"v":7},{"s":"T","g":0,"t":23.85,"v":8},{"s":"T","g":0,"t":24,"v":8}
]
},
"spacing":36,
"resolve":{"scale":{"color":"independent"},"legend":{"color":"independent"}},
"vconcat":[
{"hconcat":[
 {"width":550,"height":176,"data":{"name":"a1"},
  "encoding":{"x":{"field":"t","type":"quantitative","scale":{"domain":[0,24],"nice":false,"zero":false},"axis":{"values":[0,6,12,18,24],"grid":true,"labelExpr":"(((datum.value+8)%24)<10?'0':'')+((datum.value+8)%24)+':00'"},"title":"Local time [hh:mm]"},
   "y":{"field":"v","type":"quantitative","scale":{"domain":[0,32],"nice":false},"axis":{"values":[0,4,8,12,16,20,24,28,32],"grid":true},"title":"Redundancy"},
   "color":{"field":"s","type":"nominal","scale":{"domain":["G","B","M"],"range":["#0000ff","#ff00ff","#000000"]},"legend":{"title":null,"labelExpr":"datum.label=='G'?'L1+L2 GPS':datum.label=='B'?'B1+B2 BDS':'L1 GPS + B1 BDS'"}},
   "detail":{"field":"g","type":"nominal"}},
  "layer":[{"transform":[{"filter":"datum.s=='G'"}],"mark":{"type":"line"}},{"transform":[{"filter":"datum.s=='B'"}],"mark":{"type":"line"}},{"transform":[{"filter":"datum.s=='M'"}],"mark":{"type":"line"}}]},
 {"width":551,"height":176,"data":{"name":"a2"},
  "encoding":{"x":{"field":"t","type":"quantitative","scale":{"domain":[0,24],"nice":false,"zero":false},"axis":{"values":[0,6,12,18,24],"grid":true,"labelExpr":"(((datum.value+13)%24)<10?'0':'')+((datum.value+13)%24)+':00'"},"title":"Local time [hh:mm]"},
   "y":{"field":"v","type":"quantitative","scale":{"domain":[0,32],"nice":false},"axis":{"values":[0,4,8,12,16,20,24,28,32],"grid":true},"title":"Redundancy"},
   "color":{"field":"s","type":"nominal","scale":{"domain":["G","B","M"],"range":["#0000ff","#ff00ff","#000000"]},"legend":{"title":null,"labelExpr":"datum.label=='G'?'L1+L2 GPS':datum.label=='B'?'B1+B2 BDS':'L1 GPS + B1 BDS'"}},
   "detail":{"field":"g","type":"nominal"}},
  "layer":[{"transform":[{"filter":"datum.s=='G'"}],"mark":{"type":"line"}},{"transform":[{"filter":"datum.s=='B'"}],"mark":{"type":"line"}},{"transform":[{"filter":"datum.s=='M'"}],"mark":{"type":"line"}}]}
 ],
 "spacing":116,"bounds":"flush",
 "resolve":{"scale":{"color":"independent"},"legend":{"color":"independent"}},
 "title":{"text":"(a)","orient":"bottom","anchor":"middle","font":"Liberation Serif","fontSize":21,"fontWeight":"bold","color":"#000","offset":-5}
},
{"hconcat":[
 {"width":550,"height":176,"data":{"name":"b1"},
  "encoding":{"x":{"field":"t","type":"quantitative","scale":{"domain":[0,24],"nice":false,"zero":false},"axis":{"values":[0,6,12,18,24],"grid":true,"labelExpr":"(((datum.value+8)%24)<10?'0':'')+((datum.value+8)%24)+':00'"},"title":"Local time [hh:mm]"},
   "y":{"field":"v","type":"quantitative","scale":{"domain":[0,32],"nice":false},"axis":{"values":[0,4,8,12,16,20,24,28,32],"grid":true},"title":"Redundancy"},
   "color":{"field":"s","type":"nominal","scale":{"domain":["G","B","M"],"range":["#0000ff","#ff00ff","#000000"]},"legend":{"title":null,"labelExpr":"datum.label=='G'?'L1+L2 GPS':datum.label=='B'?'B1+B2 BDS':'L1 GPS + B1 BDS'"}},
   "detail":{"field":"g","type":"nominal"}},
  "layer":[{"transform":[{"filter":"datum.s=='G'"}],"mark":{"type":"line"}},{"transform":[{"filter":"datum.s=='B'"}],"mark":{"type":"line"}},{"transform":[{"filter":"datum.s=='M'"}],"mark":{"type":"line"}}]},
 {"width":551,"height":176,"data":{"name":"b2"},
  "encoding":{"x":{"field":"t","type":"quantitative","scale":{"domain":[0,24],"nice":false,"zero":false},"axis":{"values":[0,6,12,18,24],"grid":true,"labelExpr":"(((datum.value+13)%24)<10?'0':'')+((datum.value+13)%24)+':00'"},"title":"Local time [hh:mm]"},
   "y":{"field":"v","type":"quantitative","scale":{"domain":[0,32],"nice":false},"axis":{"values":[0,4,8,12,16,20,24,28,32],"grid":true},"title":"Redundancy"},
   "color":{"field":"s","type":"nominal","scale":{"domain":["G","B","M"],"range":["#0000ff","#ff00ff","#000000"]},"legend":{"title":null,"labelExpr":"datum.label=='G'?'L1+L2 GPS':datum.label=='B'?'B1+B2 BDS':'L1 GPS + B1 BDS'"}},
   "detail":{"field":"g","type":"nominal"}},
  "layer":[{"transform":[{"filter":"datum.s=='G'"}],"mark":{"type":"line"}},{"transform":[{"filter":"datum.s=='B'"}],"mark":{"type":"line"}},{"transform":[{"filter":"datum.s=='M'"}],"mark":{"type":"line"}}]}
 ],
 "spacing":116,"bounds":"flush",
 "resolve":{"scale":{"color":"independent"},"legend":{"color":"independent"}},
 "title":{"text":["(b)",""],"lineHeight":14,"orient":"bottom","anchor":"middle","font":"Liberation Serif","fontSize":21,"fontWeight":"bold","color":"#000","offset":-8}
},
{"hconcat":[
 {"width":550,"height":176,"data":{"name":"c1"},
  "encoding":{"x":{"field":"t","type":"quantitative","scale":{"domain":[0,24],"nice":false,"zero":false},"axis":{"values":[0,6,12,18,24],"grid":false,"labelExpr":"(((datum.value+8)%24)<10?'0':'')+((datum.value+8)%24)+':00'"},"title":"Local time [hh:mm]"},
   "y":{"field":"v","type":"quantitative","scale":{"domain":[0,32],"nice":false},"axis":{"values":[0,4,8,12,16,20,24,28,32],"grid":false},"title":"# satellites"},
   "color":{"field":"s","type":"nominal","scale":{"domain":["T","GS","GL","BS","BL"],"range":["#000000","#88e088","#ff8080","#0000ff","#66b2ff"]},"legend":{"title":null,"offset":7,"symbolSize":64,"symbolStrokeWidth":4,"labelOffset":15,"rowPadding":1,"labelExpr":"datum.label=='T'?'total # sat., epochs >= 5: 100.0%':datum.label=='GS'?'# GPS sat., epochs >= 4: 58.5%':datum.label=='GL'?'GPS < 4 sat.':datum.label=='BS'?'# BDS sat., epochs >= 4: 94.0%':'BDS < 4 sat.'"}},
   "detail":{"field":"g","type":"nominal"}},
  "layer":[{"transform":[{"filter":"datum.s=='GL'"}],"mark":{"type":"line","strokeWidth":3.5}},{"transform":[{"filter":"datum.s=='BL'"}],"mark":{"type":"line","strokeWidth":3.5}},{"transform":[{"filter":"datum.s=='GS'"}],"mark":{"type":"line","strokeWidth":3.5}},{"transform":[{"filter":"datum.s=='BS'"}],"mark":{"type":"line","strokeWidth":3.5}},{"transform":[{"filter":"datum.s=='T'"}],"mark":{"type":"line","strokeWidth":4}}]},
 {"width":551,"height":176,"data":{"name":"c2"},
  "encoding":{"x":{"field":"t","type":"quantitative","scale":{"domain":[0,24],"nice":false,"zero":false},"axis":{"values":[0,6,12,18,24],"grid":false,"labelExpr":"(((datum.value+13)%24)<10?'0':'')+((datum.value+13)%24)+':00'"},"title":"Local time [hh:mm]"},
   "y":{"field":"v","type":"quantitative","scale":{"domain":[0,32],"nice":false},"axis":{"values":[0,4,8,12,16,20,24,28,32],"grid":false},"title":"# satellites"},
   "color":{"field":"s","type":"nominal","scale":{"domain":["T","GS","GL","BS","BL"],"range":["#000000","#88e088","#ff8080","#0000ff","#66b2ff"]},"legend":{"title":null,"offset":7,"symbolSize":64,"symbolStrokeWidth":4,"labelOffset":15,"rowPadding":1,"labelExpr":"datum.label=='T'?'total # sat., epochs >= 5: 100.0%':datum.label=='GS'?'# GPS sat., epochs >= 4: 89.2%':datum.label=='GL'?'GPS < 4 sat.':datum.label=='BS'?'# BDS sat., epochs >= 4: 37.1%':'BDS < 4 sat.'"}},
   "detail":{"field":"g","type":"nominal"}},
  "layer":[{"transform":[{"filter":"datum.s=='GL'"}],"mark":{"type":"line","strokeWidth":3.5}},{"transform":[{"filter":"datum.s=='BL'"}],"mark":{"type":"line","strokeWidth":3.5}},{"transform":[{"filter":"datum.s=='GS'"}],"mark":{"type":"line","strokeWidth":3.5}},{"transform":[{"filter":"datum.s=='BS'"}],"mark":{"type":"line","strokeWidth":3.5}},{"transform":[{"filter":"datum.s=='T'"}],"mark":{"type":"line","strokeWidth":4}}]}
 ],
 "spacing":116,"bounds":"flush",
 "resolve":{"scale":{"color":"independent"},"legend":{"color":"independent"}},
 "title":{"text":"(c)","orient":"bottom","anchor":"middle","font":"Liberation Serif","fontSize":21,"fontWeight":"bold","color":"#000","offset":-8}
}
]
}
